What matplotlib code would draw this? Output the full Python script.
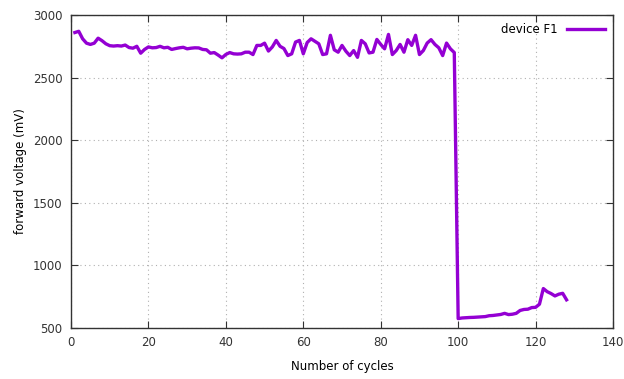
# plot.py - forward voltage vs cycles for device F1
import matplotlib
matplotlib.use("Agg")
import matplotlib.pyplot as plt

cycles = list(range(1, 129))
voltage_mv = [
    2860, 2870, 2810, 2775, 2765, 2775, 2815, 2795, 2770, 2755,
    2752, 2755, 2752, 2760, 2740, 2735, 2750, 2695, 2725, 2745,
    2738, 2740, 2750, 2738, 2742, 2725, 2732, 2738, 2742, 2730,
    2735, 2738, 2737, 2725, 2722, 2695, 2700, 2680, 2658, 2685,
    2700, 2690, 2688, 2690, 2703, 2703, 2684, 2757, 2757, 2775,
    2712, 2745, 2797, 2750, 2732, 2676, 2690, 2784, 2797, 2690,
    2780, 2810, 2790, 2770, 2684, 2690, 2838, 2722, 2703, 2757,
    2711, 2676, 2716, 2662, 2797, 2770, 2697, 2703, 2805, 2765,
    2730, 2845, 2684, 2716, 2765, 2703, 2803, 2757, 2838, 2684,
    2716, 2776, 2803, 2765, 2738, 2676, 2776, 2730, 2700, 575,
    580, 582, 584, 585, 587, 589, 591, 598, 600, 604,
    608, 617, 607, 610, 617, 640, 648, 650, 663, 665,
    690, 815, 790, 775, 756, 770, 777, 725,
]
xticks = [0, 20, 40, 60, 80, 100, 120, 140]
yticks = [500, 1000, 1500, 2000, 2500, 3000]

fig = plt.figure(figsize=(6.24, 3.79), dpi=100)
ax = fig.add_axes([0.1138, 0.1346, 0.8686, 0.8258])

ax.plot(cycles, voltage_mv, color="#9400d3", linewidth=2.4, label="device F1")

ax.set_xlim(0, 140)
ax.set_ylim(500, 3000)
ax.set_xticks(xticks)
ax.set_yticks(yticks)
ax.grid(True, color="#b0b0b0", linestyle=(0, (1, 3)), linewidth=0.8)
ax.tick_params(direction="in", top=True, right=True, length=5,
               labelsize=8.5, colors="#333333", pad=6)
for s in ax.spines.values():
    s.set_color("#333333")
    s.set_linewidth(1.0)

ax.set_xlabel("Number of cycles", fontsize=8.5, labelpad=8)
ax.set_ylabel("forward voltage (mV)", fontsize=8.5, labelpad=4)

ax.legend(loc="upper right", frameon=False, markerfirst=False,
          fontsize=8.5, handlelength=3.2, borderaxespad=0.3)

fig.savefig("out.png", dpi=100)
